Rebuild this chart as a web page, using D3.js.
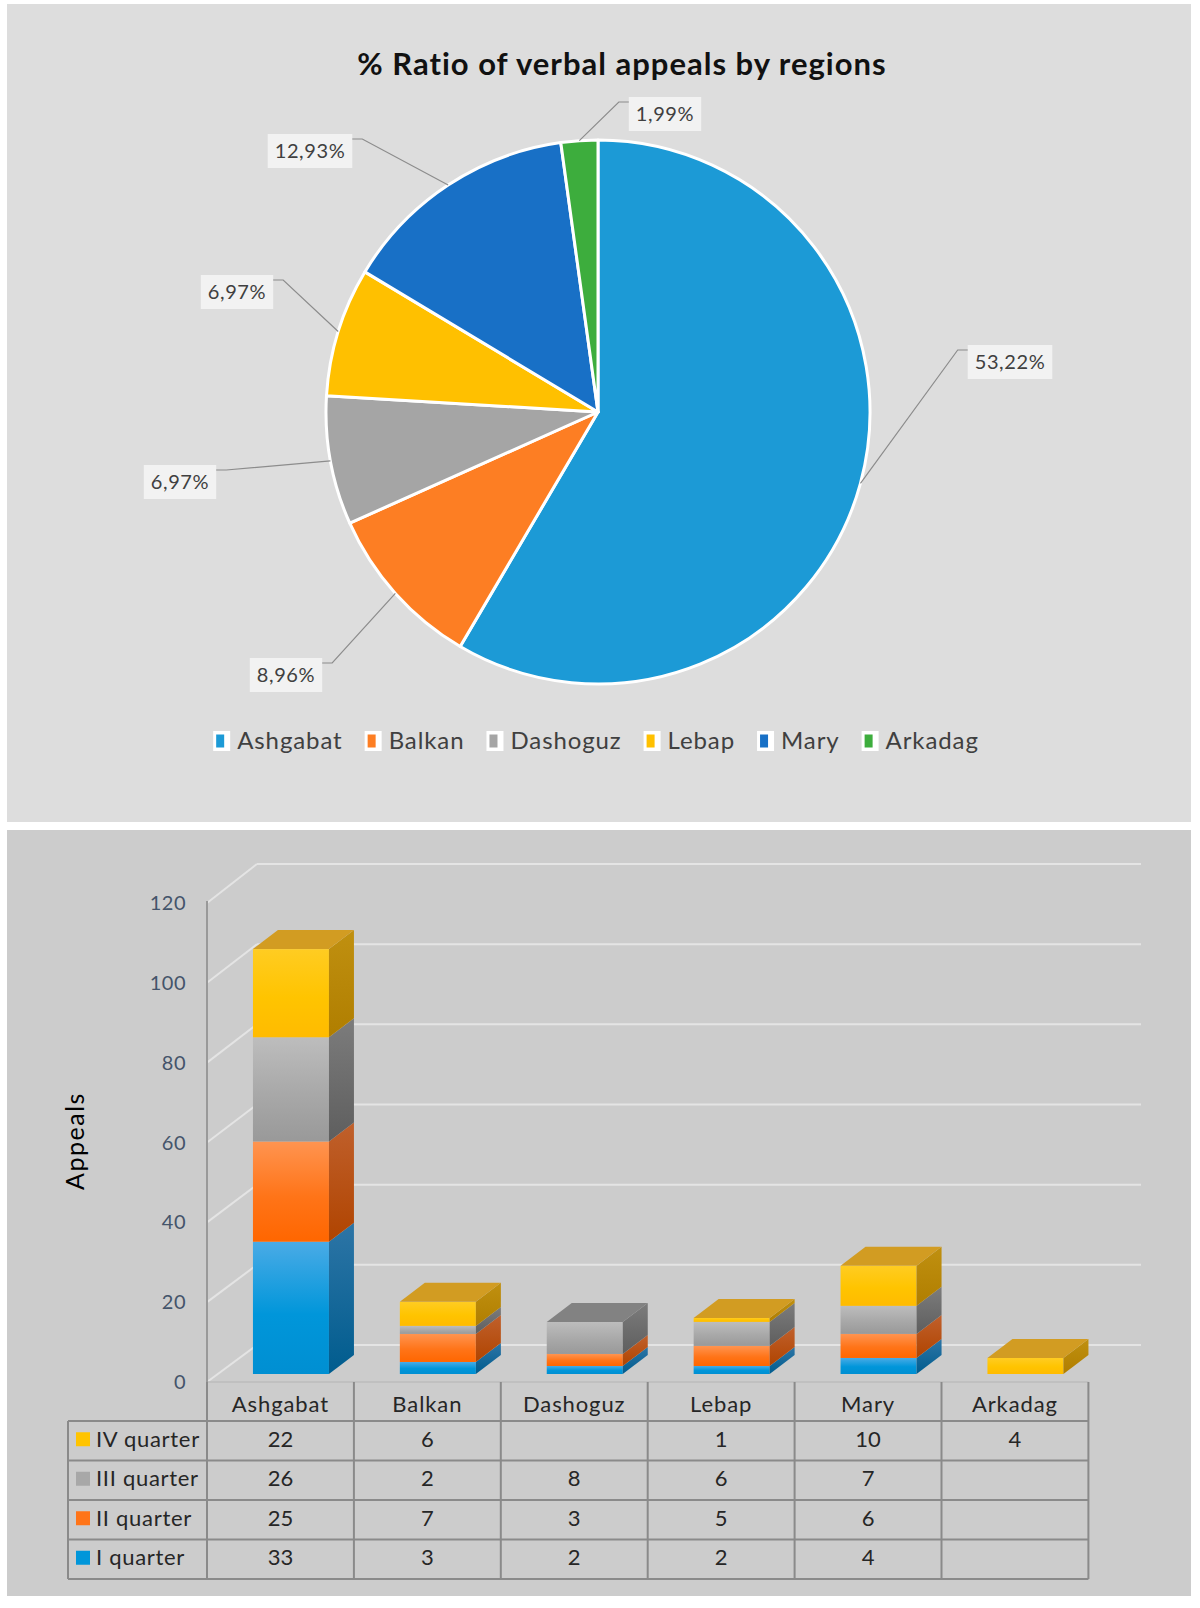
<!DOCTYPE html>
<html>
<head>
<meta charset="utf-8">
<script src="https://cdn.jsdelivr.net/npm/d3@7"></script>
<style>
  html, body { margin: 0; padding: 0; background: #ffffff; }
  svg { display: block; }
</style>
</head>
<body>
<svg id="chart" width="1200" height="1608"></svg>
<script>
// ---------------- DATA ----------------
const pieTitle = "% Ratio of verbal appeals by regions";
const regions = ["Ashgabat", "Balkan", "Dashoguz", "Lebap", "Mary", "Arkadag"];
const pieShares = [53.22, 8.96, 6.97, 6.97, 12.93, 1.99];

const quarterNames = ["I quarter", "II quarter", "III quarter", "IV quarter"];
const quarterI   = [33, 3, 2, 2, 4, null];
const quarterII  = [25, 7, 3, 5, 6, null];
const quarterIII = [26, 2, 8, 6, 7, null];
const quarterIV  = [22, 6, null, 1, 10, 4];
const yTicks = [0, 20, 40, 60, 80, 100, 120];
const yAxisTitle = "Appeals";

// ---------------- STYLE / LAYOUT ----------------
const FONT = "Lato, 'Open Sans', sans-serif";
const pieColors = ["#1c9ad6", "#fd7e23", "#a5a5a5", "#ffc000", "#1870c6", "#3dad3d"];
const svg = d3.select("#chart");
const defs = svg.append("defs");

// panels
svg.append("rect").attr("x", 7).attr("y", 4).attr("width", 1184).attr("height", 818).attr("fill", "#dddddd");
svg.append("rect").attr("x", 7).attr("y", 830).attr("width", 1184).attr("height", 766).attr("fill", "#cccccc");

// ---------------- PIE ----------------
const cx = 598, cy = 412, R = 272;
svg.append("text").attr("x", 622).attr("y", 75).attr("text-anchor", "middle")
  .attr("font-family", FONT).attr("font-weight", 700).attr("font-size", 31)
  .attr("letter-spacing", 1).attr("fill", "#111").text(pieTitle);

const pie = d3.pie().sort(null).value(d => d);
const arcs = pie(pieShares);
const arc = d3.arc().innerRadius(0).outerRadius(R);
const pg = svg.append("g").attr("transform", `translate(${cx},${cy})`);
pg.selectAll("path").data(arcs).join("path")
  .attr("d", arc).attr("fill", (d, i) => pieColors[i])
  .attr("stroke", "#ffffff").attr("stroke-width", 3).attr("stroke-linejoin", "round");

const comma = d3.formatLocale({decimal: ",", thousands: " ", grouping: [3], currency: ["", ""]}).format(".2f");
// label box layout (centres, leader side)
const labelLayout = [
  {cx: 1010, cy: 362, side: "left"},
  {cx: 286,  cy: 675, side: "right"},
  {cx: 180,  cy: 482, side: "right"},
  {cx: 237,  cy: 292, side: "right"},
  {cx: 310,  cy: 151, side: "right"},
  {cx: 665,  cy: 114, side: "left"}
];
const lg = svg.append("g");
arcs.forEach((a, i) => {
  const L = labelLayout[i];
  const txt = comma(a.data) + "%";
  const t = lg.append("text").attr("x", L.cx).attr("y", L.cy).attr("dy", "0.35em")
    .attr("text-anchor", "middle").attr("font-family", FONT).attr("font-size", 20)
    .attr("letter-spacing", 0.6).attr("fill", "#404040").text(txt);
  const w = t.node().getComputedTextLength() + 14, h = 34;
  lg.insert("rect", "text").attr("x", L.cx - w / 2).attr("y", L.cy - h / 2)
    .attr("width", w).attr("height", h).attr("fill", "#f2f2f2");
  const mid = (a.startAngle + a.endAngle) / 2;
  const px = cx + R * Math.sin(mid), py = cy - R * Math.cos(mid);
  const ax = L.side === "left" ? L.cx - w / 2 : L.cx + w / 2;
  const ay = L.cy - h / 2 + 5;
  const ex = L.side === "left" ? ax - 10 : ax + 10;
  lg.append("path").attr("d", `M${ax},${ay}L${ex},${ay}L${px},${py}`)
    .attr("fill", "none").attr("stroke", "#8c8c8c").attr("stroke-width", 1.2);
});

// legend
const leg = svg.append("g");
let lx = 0;
regions.forEach((r, i) => {
  const g = leg.append("g");
  g.append("rect").attr("x", 0).attr("y", -10).attr("width", 17).attr("height", 20)
    .attr("fill", "#ffffff");
  g.append("rect").attr("x", 3).attr("y", -6.5).attr("width", 8).attr("height", 13)
    .attr("fill", pieColors[i]);
  const t = g.append("text").attr("x", 24).attr("y", 0).attr("dy", "0.35em")
    .attr("font-family", FONT).attr("font-size", 24).attr("letter-spacing", 0.9)
    .attr("fill", "#404040").text(r);
  const tw = t.node().getComputedTextLength();
  g.attr("transform", `translate(${lx},741)`);
  lx += 24 + tw + 22;
});
const legW = lx - 22;
leg.attr("transform", `translate(${596 - legW / 2},0)`);

// ---------------- 3D STACKED BAR ----------------
const front = {x: 207, y0: 1382, y1: 903};
const back  = {x: 257, y0: 1345, y1: 864, x2: 1141};
const yFront = d3.scaleLinear().domain([0, 120]).range([front.y0, front.y1]);
const yBack  = d3.scaleLinear().domain([0, 120]).range([back.y0, back.y1]);
const yBar   = d3.scaleLinear().domain([0, 120]).range([1374, 893]);
const tableRight = 1088.4;
const xCol = d3.scaleBand().domain(regions).range([front.x, tableRight]).padding(0);
const xBar = d3.scaleBand().domain(regions).range([front.x + 10.5, tableRight + 10.5])
  .paddingInner(0.4826).paddingOuter(0.2413);
const DX = 25, DY = -19;

const bg = svg.append("g");
// back wall gridlines + side wall diagonals
yTicks.forEach(v => {
  bg.append("line").attr("x1", back.x).attr("x2", back.x2).attr("y1", yBack(v)).attr("y2", yBack(v))
    .attr("stroke", "#e4e4e4").attr("stroke-width", 2);
  bg.append("line").attr("x1", front.x).attr("x2", back.x).attr("y1", yFront(v)).attr("y2", yBack(v))
    .attr("stroke", "#e4e4e4").attr("stroke-width", 2);
});
// floor front edge
bg.append("line").attr("x1", front.x).attr("x2", tableRight).attr("y1", front.y0).attr("y2", front.y0)
  .attr("stroke", "#bdbdbd").attr("stroke-width", 1.5);
// y axis line
bg.append("line").attr("x1", front.x).attr("x2", front.x).attr("y1", front.y1 - 2).attr("y2", front.y0)
  .attr("stroke", "#999999").attr("stroke-width", 2);
// tick labels
bg.selectAll("text.tick").data(yTicks).join("text").attr("class", "tick")
  .attr("x", 186).attr("y", d => yFront(d)).attr("dy", "0.35em").attr("text-anchor", "end")
  .attr("font-family", FONT).attr("font-size", 20).attr("letter-spacing", 0.5)
  .attr("fill", "#44546a").text(d => d);
// axis title
bg.append("text").attr("transform", "translate(84,1141) rotate(-90)").attr("text-anchor", "middle")
  .attr("font-family", FONT).attr("font-size", 25).attr("letter-spacing", 1.5)
  .attr("fill", "#000").text(yAxisTitle);

// gradients
const qStyles = [
  {front: ["#4aabe6", "#0096da", "#008fd2"], side: ["#2d75a6", "#005c8e"], top: "#2a8ac4"},
  {front: ["#ff9450", "#ff7418", "#ff6600"], side: ["#c0602c", "#b04400"], top: "#d9702a"},
  {front: ["#bdbdbd", "#a8a8a8", "#999999"], side: ["#7c7c7c", "#5e5e5e"], top: "#828282"},
  {front: ["#ffcc22", "#ffc400", "#ffbb00"], side: ["#c09010", "#b07e00"], top: "#d29c22"}
];
qStyles.forEach((s, i) => {
  const gf = defs.append("linearGradient").attr("id", "gf" + i).attr("x1", 0).attr("y1", 0).attr("x2", 0).attr("y2", 1);
  gf.append("stop").attr("offset", 0).attr("stop-color", s.front[0]);
  gf.append("stop").attr("offset", 0.55).attr("stop-color", s.front[1]);
  gf.append("stop").attr("offset", 1).attr("stop-color", s.front[2]);
  const gs = defs.append("linearGradient").attr("id", "gs" + i).attr("x1", 0).attr("y1", 0).attr("x2", 0).attr("y2", 1);
  gs.append("stop").attr("offset", 0).attr("stop-color", s.side[0]);
  gs.append("stop").attr("offset", 1).attr("stop-color", s.side[1]);
});

const series = [quarterI, quarterII, quarterIII, quarterIV];
const table = regions.map((r, j) => {
  const o = {region: r};
  quarterNames.forEach((q, k) => o[q] = series[k][j] || 0);
  return o;
});
const stacked = d3.stack().keys(quarterNames)(table);

const barsG = svg.append("g");
regions.forEach((r, j) => {
  const x0 = xBar(r), w = xBar.bandwidth();
  let topK = -1;
  stacked.forEach((s, k) => { if (s[j][1] > s[j][0]) topK = k; });
  stacked.forEach((s, k) => {
    const v0 = s[j][0], v1 = s[j][1];
    if (v1 <= v0) return;
    const yb = yBar(v0), yt = yBar(v1);
    barsG.append("rect").attr("x", x0).attr("y", yt).attr("width", w).attr("height", yb - yt)
      .attr("fill", `url(#gf${k})`);
    barsG.append("path")
      .attr("d", `M${x0 + w},${yt}L${x0 + w + DX},${yt + DY}L${x0 + w + DX},${yb + DY}L${x0 + w},${yb}Z`)
      .attr("fill", `url(#gs${k})`);
    if (k === topK) {
      barsG.append("path")
        .attr("d", `M${x0},${yt}L${x0 + DX},${yt + DY}L${x0 + w + DX},${yt + DY}L${x0 + w},${yt}Z`)
        .attr("fill", qStyles[k].top);
    }
  });
});

// ---------------- DATA TABLE ----------------
const tg = svg.append("g");
const rowTop = 1421, rowH = 39.5, tableLeft = 68;
const rowsOrder = [3, 2, 1, 0];
const lineColor = "#8a8a8a";
// header verticals
xCol.domain().forEach(r => {
  tg.append("line").attr("x1", xCol(r)).attr("x2", xCol(r)).attr("y1", front.y0).attr("y2", rowTop)
    .attr("stroke", lineColor).attr("stroke-width", 2);
});
tg.append("line").attr("x1", tableRight).attr("x2", tableRight).attr("y1", front.y0).attr("y2", rowTop)
  .attr("stroke", lineColor).attr("stroke-width", 2);
tg.selectAll("text.hdr").data(regions).join("text").attr("class", "hdr")
  .attr("x", d => xCol(d) + xCol.bandwidth() / 2).attr("y", 1404).attr("dy", "0.35em")
  .attr("text-anchor", "middle").attr("font-family", FONT).attr("font-size", 22).attr("letter-spacing", 0.9)
  .attr("fill", "#262626").text(d => d);
// row grid
for (let i = 0; i <= 4; i++) {
  tg.append("line").attr("x1", tableLeft).attr("x2", tableRight).attr("y1", rowTop + i * rowH).attr("y2", rowTop + i * rowH)
    .attr("stroke", lineColor).attr("stroke-width", 2);
}
[tableLeft].concat(regions.map(r => xCol(r)), [tableRight]).forEach(x => {
  tg.append("line").attr("x1", x).attr("x2", x).attr("y1", rowTop).attr("y2", rowTop + 4 * rowH)
    .attr("stroke", lineColor).attr("stroke-width", 2);
});
rowsOrder.forEach((k, ri) => {
  const yc = rowTop + ri * rowH + rowH / 2 - 1.5;
  tg.append("rect").attr("x", 76).attr("y", yc - 7).attr("width", 14).attr("height", 14)
    .attr("fill", qStyles[k].front[1]);
  tg.append("text").attr("x", 96).attr("y", yc).attr("dy", "0.35em")
    .attr("font-family", FONT).attr("font-size", 22).attr("letter-spacing", 0.7)
    .attr("fill", "#262626").text(quarterNames[k]);
  regions.forEach((r, j) => {
    const v = series[k][j];
    if (v == null) return;
    tg.append("text").attr("x", xCol(r) + xCol.bandwidth() / 2).attr("y", yc).attr("dy", "0.35em")
      .attr("text-anchor", "middle").attr("font-family", FONT).attr("font-size", 22)
      .attr("fill", "#262626").text(v);
  });
});
</script>
</body>
</html>
